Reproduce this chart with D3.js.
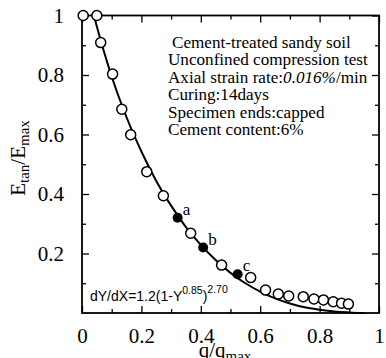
<!DOCTYPE html>
<html lang="en">
<head>
	<meta charset="UTF-8">
	<title>Etan/Emax vs q/qmax</title>
	<script src="https://cdnjs.cloudflare.com/ajax/libs/d3/7.8.5/d3.min.js"></script>
	<style>
		body { margin: 0; background: #fff; }
		svg { display: block; }
	</style>
</head>
<body>
<script>
	//----data----
	var openX = [0.004, 0.05, 0.063, 0.103, 0.134, 0.164, 0.218, 0.274, 0.366, 0.470, 0.568, 0.618, 0.661, 0.696, 0.745, 0.781, 0.813, 0.846, 0.874, 0.897];
	var openY = [1.0, 1.0, 0.909, 0.803, 0.685, 0.599, 0.475, 0.394, 0.268, 0.161, 0.119, 0.077, 0.064, 0.057, 0.055, 0.047, 0.044, 0.038, 0.033, 0.030];
	var filledX = [0.322, 0.408, 0.524];
	var filledY = [0.320, 0.220, 0.130];
	var filledLabels = ['a', 'b', 'c'];
	// fitted curve
	var curveX = [0.04, 0.05, 0.10, 0.15, 0.20, 0.25, 0.30, 0.35, 0.40, 0.45, 0.50, 0.55, 0.60, 0.65, 0.70, 0.75, 0.80, 0.85, 0.90, 0.95];
	var curveY = [1.0, 0.963, 0.795, 0.658, 0.543, 0.444, 0.361, 0.289, 0.229, 0.178, 0.135, 0.100, 0.072, 0.049, 0.032, 0.019, 0.011, 0.005, 0.002, 0.0];
	var xTicks = [0, 0.2, 0.4, 0.6, 0.8, 1];
	var yTicks = [0.2, 0.4, 0.6, 0.8, 1];
	var minorTicks = [0.1, 0.3, 0.5, 0.7, 0.9];
	var notes = ['Cement-treated sandy soil', 'Unconfined compression test', 'Axial strain rate:', 'Curing:14days', 'Specimen ends:capped', 'Cement content:6%'];

	var W = 386, H = 358;
	var plot = {left: 82, right: 379, top: 15.5, bottom: 313};
	var serif = '"Liberation Serif", "Times New Roman", serif';

	var svg = d3.select('body').append('svg')
		.attr('width', W)
		.attr('height', H);

	var x = d3.scaleLinear().domain([0, 1]).range([plot.left, plot.right]);
	var y = d3.scaleLinear().domain([0, 1]).range([plot.bottom, plot.top]);

	//----axes, ticks inward----
	function styleAxis(g) {
		g.select('.domain').remove();
		g.selectAll('line').attr('stroke', '#000').attr('stroke-width', 1.3);
		g.selectAll('text').attr('font-family', serif).attr('font-size', 21).attr('fill', '#000');
	}
	svg.append('g').attr('transform', 'translate(0,' + plot.bottom + ')')
		.call(d3.axisBottom(x).tickValues(xTicks).tickSize(-7).tickPadding(15).tickFormat(d3.format('~g')))
		.call(styleAxis);
	svg.append('g').attr('transform', 'translate(0,' + plot.bottom + ')')
		.call(d3.axisBottom(x).tickValues(minorTicks).tickSize(-4).tickFormat(''))
		.call(styleAxis);
	svg.append('g').attr('transform', 'translate(' + plot.left + ',0)')
		.call(d3.axisLeft(y).tickValues(yTicks).tickSize(-7).tickPadding(18).tickFormat(d3.format('~g')))
		.call(styleAxis);
	svg.append('g').attr('transform', 'translate(' + plot.left + ',0)')
		.call(d3.axisLeft(y).tickValues(minorTicks).tickSize(-4).tickFormat(''))
		.call(styleAxis);
	svg.append('g').attr('transform', 'translate(0,' + plot.top + ')')
		.call(d3.axisTop(x).tickValues(xTicks).tickSize(-7).tickFormat(''))
		.call(styleAxis);
	svg.append('g').attr('transform', 'translate(0,' + plot.top + ')')
		.call(d3.axisTop(x).tickValues(minorTicks).tickSize(-4).tickFormat(''))
		.call(styleAxis);
	svg.append('g').attr('transform', 'translate(' + plot.right + ',0)')
		.call(d3.axisRight(y).tickValues(yTicks).tickSize(-7).tickFormat(''))
		.call(styleAxis);
	svg.append('g').attr('transform', 'translate(' + plot.right + ',0)')
		.call(d3.axisRight(y).tickValues(minorTicks).tickSize(-4).tickFormat(''))
		.call(styleAxis);

	svg.append('rect')
		.attr('x', plot.left).attr('y', plot.top)
		.attr('width', plot.right - plot.left).attr('height', plot.bottom - plot.top)
		.attr('fill', 'none').attr('stroke', '#000').attr('stroke-width', 1.8);

	//----fitted curve----
	var line = d3.line()
		.x(function (d) { return x(d[0]); })
		.y(function (d) { return y(d[1]); })
		.curve(d3.curveMonotoneX);
	svg.append('path')
		.datum(d3.zip(curveX, curveY))
		.attr('d', line)
		.attr('fill', 'none')
		.attr('stroke', '#000')
		.attr('stroke-width', 2);

	//----points----
	svg.selectAll('circle.open')
		.data(d3.zip(openX, openY))
		.enter().append('circle')
		.attr('class', 'open')
		.attr('cx', function (d) { return x(d[0]); })
		.attr('cy', function (d) { return y(d[1]); })
		.attr('r', 5)
		.attr('fill', '#fff')
		.attr('stroke', '#000')
		.attr('stroke-width', 1.5);

	var filled = d3.zip(filledX, filledY, filledLabels);
	svg.selectAll('circle.filled')
		.data(filled)
		.enter().append('circle')
		.attr('class', 'filled')
		.attr('cx', function (d) { return x(d[0]); })
		.attr('cy', function (d) { return y(d[1]); })
		.attr('r', 5)
		.attr('fill', '#000');
	svg.selectAll('text.pt')
		.data(filled)
		.enter().append('text')
		.attr('class', 'pt')
		.attr('x', function (d) { return x(d[0]) + 5; })
		.attr('y', function (d) { return y(d[1]) - 3; })
		.attr('font-family', serif)
		.attr('font-size', 17)
		.text(function (d) { return d[2]; });

	//----notes, font sized so the widest line stays inside the frame----
	var nt = svg.append('g').attr('font-family', serif).attr('font-size', 17);
	var rows = [];
	notes.forEach(function (s, i) {
		var t = nt.append('text')
			.attr('x', i === 0 ? 172 : 168)
			.attr('y', 48 + i * 17.4)
			.text(s);
		if (i === 2) {
			t.append('tspan').attr('font-style', 'italic').text('0.016%');
			t.append('tspan').text('/min');
		}
		rows.push(t);
	});
	var widest = d3.max(rows, function (t) { return t.node().getComputedTextLength(); });
	nt.attr('font-size', Math.min(18, 17 * 200 / widest));

	//----equation----
	var eq = svg.append('text')
		.attr('x', 90).attr('y', 300.5)
		.attr('font-family', '"Liberation Sans", Arial, sans-serif')
		.attr('font-size', 14);
	eq.append('tspan').text('dY/dX=1.2(1-Y');
	eq.append('tspan').attr('font-size', 10.5).attr('dy', -7).text('0.85');
	eq.append('tspan').attr('dy', 7).text(')');
	eq.append('tspan').attr('font-size', 10.5).attr('dy', -8).text('2.70');

	//----axis titles----
	var yl = svg.append('text')
		.attr('transform', 'translate(25,158) rotate(-90)')
		.attr('text-anchor', 'middle')
		.attr('font-family', serif)
		.attr('font-size', 21);
	yl.append('tspan').text('E');
	yl.append('tspan').attr('font-size', 15).attr('dy', 4).text('tan');
	yl.append('tspan').attr('dy', -4).text('/E');
	yl.append('tspan').attr('font-size', 15).attr('dy', 4).text('max');

	var xl = svg.append('text')
		.attr('x', 225).attr('y', 357)
		.attr('text-anchor', 'middle')
		.attr('font-family', serif)
		.attr('font-size', 21);
	xl.append('tspan').text('q/q');
	xl.append('tspan').attr('font-size', 15).attr('dy', 4).text('max');
</script>
</body>
</html>
